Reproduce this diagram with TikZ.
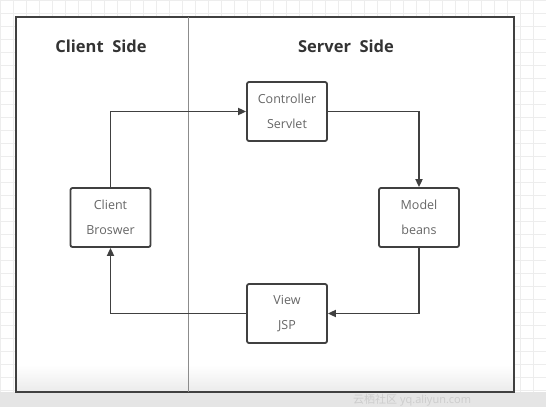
\documentclass[tikz,border=0pt]{standalone}
\usepackage{fontspec}
\setmainfont{Open Sans}
\newfontfamily\cjk{Noto Sans CJK SC}
\usetikzlibrary{arrows.meta, positioning}

\tikzset{
  mvcbox/.style={draw=black!75, line width=1.8pt, rounded corners=2pt, fill=white,
    minimum width=80pt, minimum height=59pt, align=center, text=black!60,
    font=\fontsize{12.5}{25}\selectfont},
  flow/.style={draw=black!75, line width=1.8pt, -{Triangle[length=8pt,width=7pt]}},
  sidetitle/.style={font=\bfseries\fontsize{16.5}{18}\selectfont, text=black!80}
}

\begin{document}
\begin{tikzpicture}[x=1pt, y=-1pt]
  \useasboundingbox (0,0) rectangle (546,407);
  % background grid and frame
  \draw[black!7, step=13pt] (0,0) grid (546,407);
  \fill[black!10] (0,392) rectangle (546,407);
  \fill[white] (16,17) rectangle (514,392);
  \shade[top color=white, bottom color=black!8] (16,365) rectangle (514,392);
  \draw[black!75, line width=2.4pt] (16,17) rectangle (514,392);
  \draw[black!45, line width=0.7pt] (188,17) -- (188,392);

  \node[sidetitle] (clienttitle) at (101,46) {Client\ \ Side};
  \node[sidetitle] (servertitle) at (346,46) {Server\ \ Side};

  \node[mvcbox] (client) at (110.5,217.5) {Client\\Broswer};
  \node[mvcbox] (controller) at (287,111.5) {Controller\\Servlet};
  \node[mvcbox] (model) at (419,217.5) {Model\\beans};
  \node[mvcbox] (view) at (287,313.5) {View\\JSP};

  \draw[flow] (client.north) |- (controller.west);
  \draw[flow] (controller.east) -| (model.north);
  \draw[flow] (model.south) |- (view.east);
  \draw[flow] (view.west) -| (client.south);

  \node[text=white!80!black, font=\fontsize{11}{11}\selectfont, anchor=west, inner sep=1pt] (mark) at (352,400) {{\cjk 云栖社区} yq.aliyun.com};
\end{tikzpicture}
\end{document}
